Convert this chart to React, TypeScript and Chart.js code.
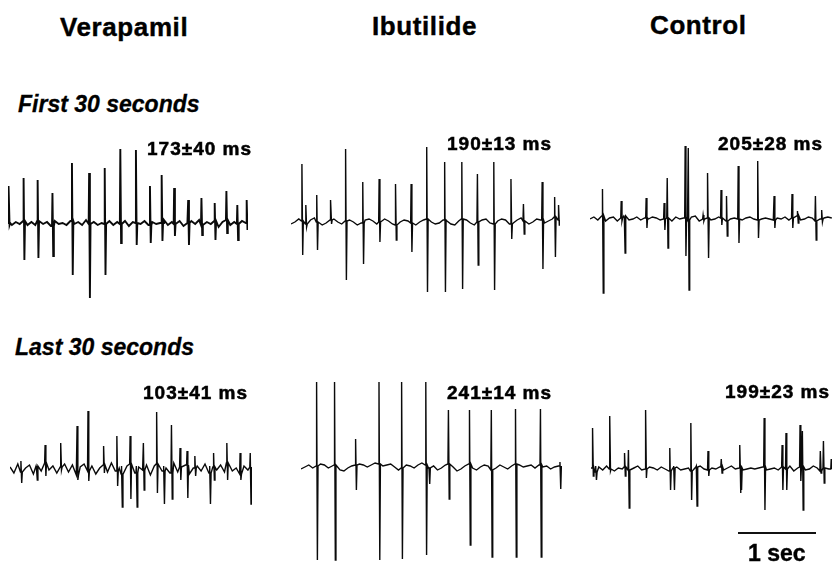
import React, { useEffect, useRef } from "react";
import { Chart, registerables } from "chart.js";

Chart.register(...registerables);

// ---------- data (time in s from trace start, amplitude in a.u.; up = positive) ----------
const BASE_STEP = 0.05; // s between baseline samples

// Verapamil – first 30 s
const veraFirstT = [0.01, 0.2, 0.38, 0.57, 0.82, 1.04, 1.24, 1.44, 1.64, 1.82, 1.97, 2.13, 2.31, 2.48, 2.65, 2.8, 2.94, 3.06];
const veraFirstUp = [37, 45, 43, 30, 60, 50, 55, 74, 73, 37, 48, 35, 23, 25, 20, 32, 18, 23];
const veraFirstDown = [2, 37, 35, 33, 52, 75, 52, 20, 22, 20, 18, 13, 22, 12, 17, 10, 17, 7];
const veraFirstBase = [0, -2, 1, -1, 2, -2, 1, -2, 2, -1, 1, -3, 2, -1, 0, -2, 2, -1, 1, -2, 3, -1, 1, -2, 0, -1, 2, -2, 1, -1, 2, -3, 1, 0, -1, 2, -2, 1, -1, 0, 3, -2, 1, -1, 2, -3, 0, 2, -1, 3, -2, 1, -1, 2, -4, 1, 3, -2, 1, -1, 2, 0];

// Ibutilide – first 30 s
const ibuFirstT = [0.14, 0.19, 0.33, 0.51, 0.7, 0.92, 1.13, 1.34, 1.54, 1.74, 1.97, 2.19, 2.39, 2.6, 2.82, 2.98, 3.22, 3.38, 3.43];
const ibuFirstUp = [58, 17, 27, 22, 73, 40, 43, 38, 38, 75, 60, 60, 48, 60, 43, 18, 40, 25, 17];
const ibuFirstDown = [33, 5, 28, 2, 58, 42, 20, 18, 30, 70, 70, 67, 43, 68, 17, 12, 47, 35, 3];
const ibuFirstBase = [-2, 0, 3, 1, -2, 2, 4, 0, -3, -1, 2, 3, 0, -2, 1, 2, 0, -3, -1, 2, 3, 1, -2, 0, 3, 1, -2, -3, 0, 2, 1, -1, -3, 0, 2, 3, 0, -2, -1, 2, 1, -2, -3, 1, 3, 2, -1, -3, 0, 2, 3, -1, -2, 1, 3, 2, -2, -1, 2, 4, 1, -2, 0, 3, 2, -1, 1, 3, 5, 2];

// Control – first 30 s
const ctrlFirstT = [0.16, 0.4, 0.44, 0.72, 0.95, 0.99, 1.22, 1.26, 1.45, 1.51, 1.68, 1.75, 1.9, 2.15, 2.36, 2.59, 2.66, 2.89, 2.97];
const ctrlFirstUp = [30, 18, 2, 21, 16, 41, 73, 71, 4, 46, 29, 23, 53, 58, 23, 25, 8, 23, 9];
const ctrlFirstDown = [74, 2, 34, 9, 11, 29, 37, 71, 2, 39, 6, 17, 24, 19, 9, 9, 4, 21, 3];
const ctrlFirstBase = [0, 2, -1, 3, -2, 1, 2, -2, 1, 3, -1, 0, 2, -1, 1, 0, 2, 1, -1, 0, 1, -2, 2, 0, 1, -1, 2, 3, -2, 0, 1, -1, 0, 2, 1, -2, 0, 1, 0, -1, 1, 2, 0, -1, 0, 1, 0, -1, 1, 0, 2, -1, 1, 3, -1, 0, 2, 1, -2, 0, 1, 2, 1];

// Verapamil – last 30 s
const veraLastT = [0.14, 0.34, 0.45, 0.65, 0.86, 1.0, 1.2, 1.37, 1.43, 1.54, 1.62, 1.71, 1.88, 1.97, 2.07, 2.18, 2.27, 2.37, 2.56, 2.61, 2.78, 2.95, 3.08];
const veraLastUp = [8, 0, 24, 26, 43, 58, 23, 33, 3, 33, 3, 26, 57, 3, 44, 21, 18, 13, 3, 16, 26, 16, 16];
const veraLastDown = [14, 11, 7, 1, 11, 12, 4, 17, 38, 30, 38, 21, 24, 35, 30, 11, 29, 7, 35, 11, 11, 11, 35];
const veraLastBase = [2, -4, 5, -3, 1, 4, -5, 3, -2, 6, -1, 3, -4, 2, 5, -3, 4, -6, 2, 5, -2, 3, -5, 1, 4, -3, 6, -2, 1, -5, 3, 5, -4, 2, -1, 4, -6, 3, 5, -2, 1, -4, 6, -3, 2, 4, -5, 1, 3, -2, 5, -4, 2, -1, 4, -3, 6, -2, 1, -5, 3, -1, 2];

// Ibutilide – last 30 s
const ibuLastT = [0.2, 0.43, 0.7, 1.0, 1.29, 1.6, 1.64, 1.89, 2.16, 2.44, 2.75, 3.07, 3.32];
const ibuLastUp = [85, 85, 28, 85, 85, 85, 0, 57, 57, 57, 58, 58, 5];
const ibuLastDown = [93, 93, 23, 93, 92, 88, 17, 32, 78, 90, 90, 90, 22];
const ibuLastBase = [-2, 0, 2, -1, 1, 3, 2, -1, 1, 2, -3, -4, -1, 1, 2, 3, 2, 0, 2, 4, 3, 1, 2, 3, 0, -3, -1, 2, 1, -1, 2, 4, 2, -1, 1, -3, -1, 2, 3, 0, -4, -2, 1, 3, -1, -3, 0, 2, 1, -3, -1, 2, 0, -2, 1, 3, 2, 0, 1, 2, -1, 2, 0, 1, -2, 0, 1];

// Control – last 30 s
const ctrlLastT = [0.02, 0.06, 0.24, 0.43, 0.48, 0.7, 1.01, 1.06, 1.28, 1.35, 1.5, 1.67, 1.91, 1.92, 2.22, 2.45, 2.5, 2.68, 2.71, 2.94, 2.98, 3.08];
const ctrlLastUp = [41, 3, 53, 16, 19, 59, 21, 3, 46, 3, 18, 10, 24, 3, 51, 24, 36, 44, 38, 18, 28, 10];
const ctrlLastDown = [7, 11, 2, 7, 39, 9, 21, 21, 31, 37, 7, 4, 24, 21, 41, 21, 21, 12, 41, 4, 14, 0];
const ctrlLastBase = [1, -3, 2, -1, 3, 0, -2, 1, 0, 2, -1, 1, 3, -1, 0, 2, 1, -1, 2, 0, -2, 1, 2, -1, 0, 1, -2, 2, 3, 0, -1, 1, 0, 2, -1, 1, 3, 0, 1, -1, 0, 1, 0, 1, 2, -1, 0, 1, -1, 2, 0, 3, -2, 1, 2, -1, 0, 3, 1, -2, 1, 0];

// Text labels
const drugTitles = ["Verapamil", "Ibutilide", "Control"];
const periodLabels = ["First 30 seconds", "Last 30 seconds"];
const firstCycleLabels = ["173±40 ms", "190±13 ms", "205±28 ms"];
const lastCycleLabels = ["103±41 ms", "241±14 ms", "199±23 ms"];
const scaleLabel = "1 sec";

// ---------- layout ----------
const PX_PER_SEC = 78;
const AMP_MAX = 95;
const AMP_MIN = -105;

type Pt = { x: number; y: number };

function buildTrace(ts: number[], ups: number[], downs: number[], base: number[]): Pt[] {
  const pts: Pt[] = [];
  base.forEach((v, i) => {
    const x = i * BASE_STEP;
    const inSpike = ts.some((t) => x >= t - 0.008 && x <= t + 0.02);
    if (!inSpike) pts.push({ x, y: v });
  });
  ts.forEach((t, k) => {
    const root = base[Math.min(base.length - 1, Math.round(t / BASE_STEP))];
    pts.push({ x: t - 0.006, y: root });
    pts.push({ x: t, y: ups[k] });
    pts.push({ x: t + 0.01, y: -downs[k] });
    pts.push({ x: t + 0.018, y: root });
  });
  pts.sort((a, b) => a.x - b.x);
  return pts;
}

type PanelProps = {
  ts: number[];
  ups: number[];
  downs: number[];
  base: number[];
  left: number;
  width: number;
  baselineY: number;
  lineWidth?: number;
};

function TracePanel({ ts, ups, downs, base, left, width, baselineY, lineWidth = 1.4 }: PanelProps) {
  const ref = useRef<HTMLCanvasElement | null>(null);
  const height = AMP_MAX - AMP_MIN;
  useEffect(() => {
    if (!ref.current) return;
    const chart = new Chart(ref.current, {
      type: "line",
      data: {
        datasets: [
          {
            data: buildTrace(ts, ups, downs, base),
            borderColor: "#0a0a0a",
            borderWidth: lineWidth,
            pointRadius: 0,
            tension: 0,
            fill: false,
          },
        ],
      },
      options: {
        animation: false,
        responsive: false,
        maintainAspectRatio: false,
        devicePixelRatio: 1,
        events: [],
        layout: { padding: 0 },
        plugins: { legend: { display: false }, tooltip: { enabled: false } },
        scales: {
          x: { type: "linear", display: false, min: 0, max: width / PX_PER_SEC },
          y: { type: "linear", display: false, min: AMP_MIN, max: AMP_MAX },
        },
      },
    });
    return () => chart.destroy();
  }, []);
  return (
    <canvas
      ref={ref}
      width={width}
      height={height}
      style={{ position: "absolute", left, top: baselineY - AMP_MAX, width, height }}
    />
  );
}

const FONT = '"Liberation Sans", Arial, Helvetica, sans-serif';

function Label({ text, left, baseline, size, italic = false, spacing = 0, stroke = 0.4 }: { text: string; left: number; baseline: number; size: number; italic?: boolean; spacing?: number; stroke?: number }) {
  return (
    <div
      style={{
        position: "absolute",
        left,
        top: baseline - 0.8465 * size,
        fontFamily: FONT,
        fontWeight: "bold",
        fontStyle: italic ? "italic" : "normal",
        fontSize: size,
        lineHeight: `${size}px`,
        letterSpacing: spacing,
        whiteSpace: "nowrap",
        color: "#000",
        WebkitTextStroke: `${stroke}px #000`,
      }}
    >
      {text}
    </div>
  );
}

export default function App() {
  return (
    <div
      style={{
        position: "fixed",
        left: 0,
        top: 0,
        width: 832,
        height: 562,
        overflow: "hidden",
        background: "#fff",
      }}
    >
      <TracePanel ts={veraFirstT} ups={veraFirstUp} downs={veraFirstDown} base={veraFirstBase} left={8} width={240} baselineY={223} lineWidth={1.9} />
      <TracePanel ts={ibuFirstT} ups={ibuFirstUp} downs={ibuFirstDown} base={ibuFirstBase} left={291} width={269} baselineY={222} />
      <TracePanel ts={ctrlFirstT} ups={ctrlFirstUp} downs={ctrlFirstDown} base={ctrlFirstBase} left={590} width={242} baselineY={219} />
      <TracePanel ts={veraLastT} ups={veraLastUp} downs={veraLastDown} base={veraLastBase} left={10} width={242} baselineY={469} />
      <TracePanel ts={ibuLastT} ups={ibuLastUp} downs={ibuLastDown} base={ibuLastBase} left={301} width={261} baselineY={467} />
      <TracePanel ts={ctrlLastT} ups={ctrlLastUp} downs={ctrlLastDown} base={ctrlLastBase} left={591} width={241} baselineY={469} />

      <Label text={drugTitles[0]} left={60} baseline={36} size={26} spacing={0.6} />
      <Label text={drugTitles[1]} left={372} baseline={35} size={26} spacing={0.6} />
      <Label text={drugTitles[2]} left={650} baseline={34} size={26} spacing={0.6} />

      <Label text={periodLabels[0]} left={18} baseline={112} size={23} italic stroke={0.3} />
      <Label text={periodLabels[1]} left={15} baseline={355} size={23} italic stroke={0.3} />

      <Label text={firstCycleLabels[0]} left={147} baseline={155} size={19} spacing={1} stroke={0.5} />
      <Label text={firstCycleLabels[1]} left={447} baseline={150} size={19} spacing={1} stroke={0.5} />
      <Label text={firstCycleLabels[2]} left={718} baseline={150} size={19} spacing={1} stroke={0.5} />
      <Label text={lastCycleLabels[0]} left={143} baseline={399} size={19} spacing={1} stroke={0.5} />
      <Label text={lastCycleLabels[1]} left={447} baseline={399} size={19} spacing={1} stroke={0.5} />
      <Label text={lastCycleLabels[2]} left={725} baseline={398} size={19} spacing={1} stroke={0.5} />

      <div style={{ position: "absolute", left: 738, top: 532, width: 78, height: 2, background: "#111" }} />
      <Label text={scaleLabel} left={748} baseline={561} size={23} stroke={0.4} />
    </div>
  );
}
